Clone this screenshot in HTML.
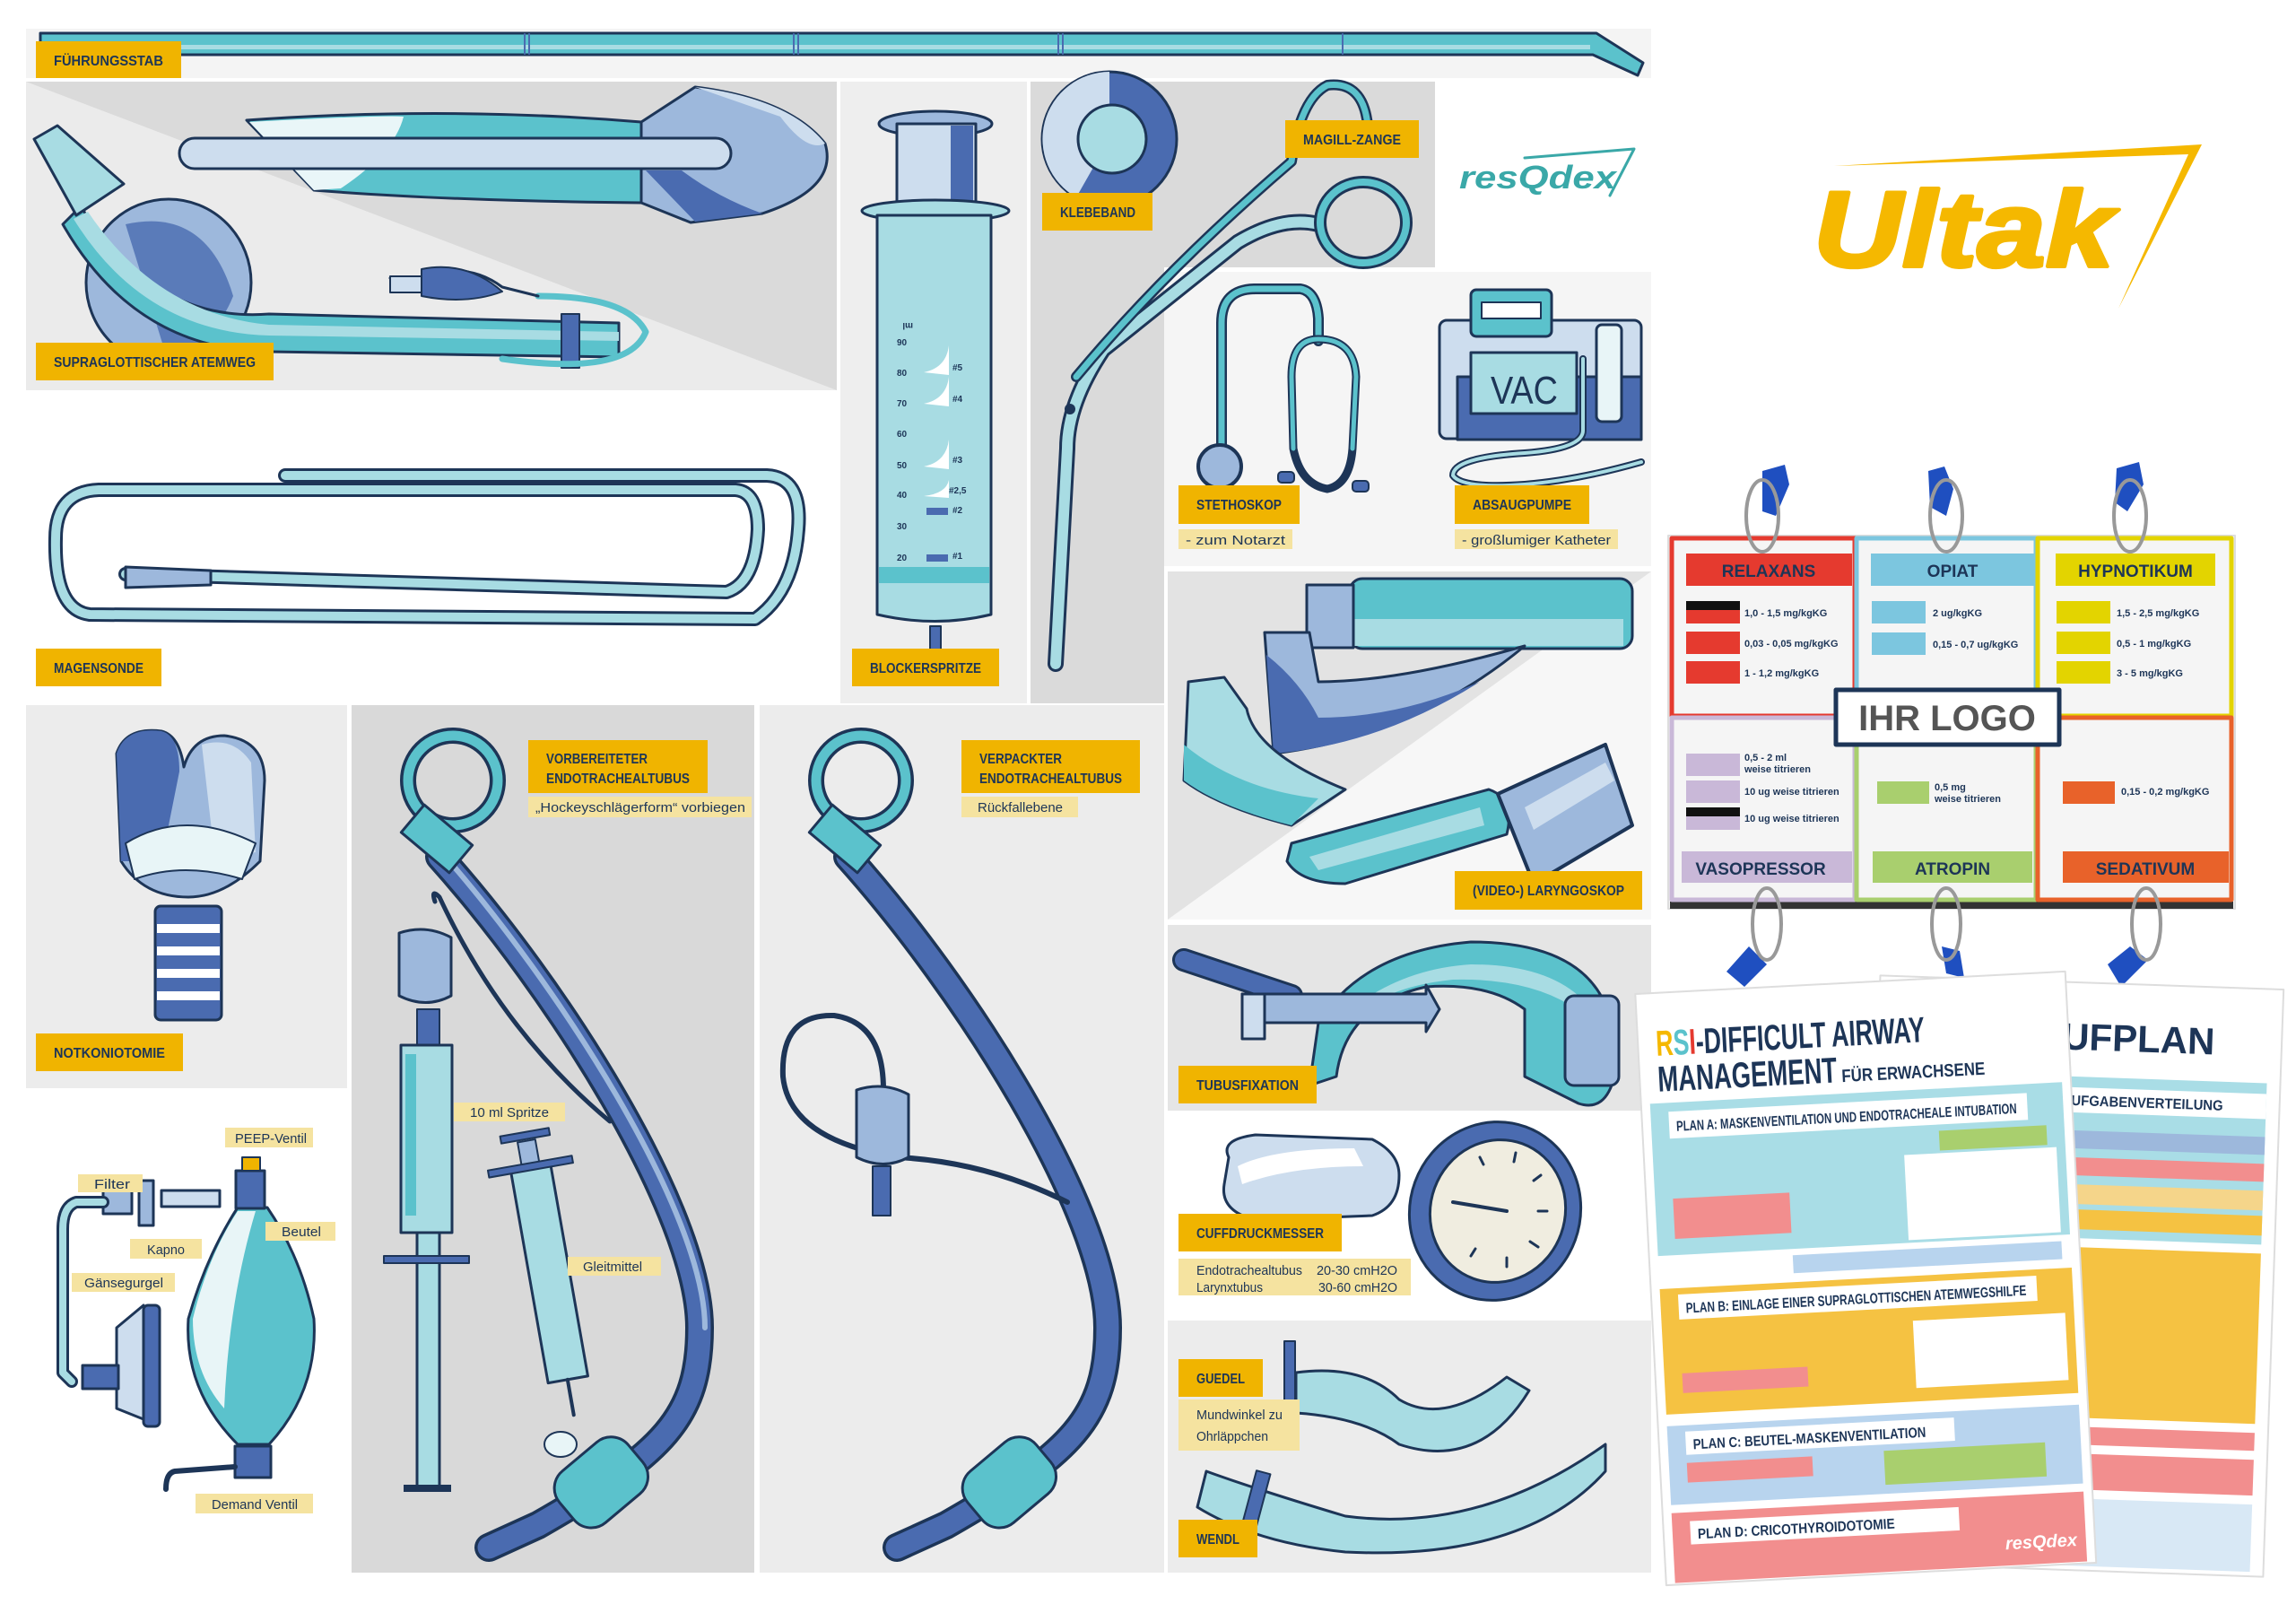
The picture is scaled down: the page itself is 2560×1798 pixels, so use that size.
<!DOCTYPE html>
<html><head><meta charset="utf-8"><style>
html,body{margin:0;padding:0;background:#fff;}
svg{display:block;}
.lb{font-family:"Liberation Sans Narrow","Liberation Sans",sans-serif;font-weight:bold;font-size:16px;fill:#1d3557;}
.sb{font-family:"Liberation Sans Narrow","Liberation Sans",sans-serif;font-size:15px;fill:#1d3557;}
.sm{font-family:"Liberation Sans Narrow","Liberation Sans",sans-serif;font-size:10px;fill:#1d3557;font-weight:bold;}
</style></head><body>
<svg width="2560" height="1798" viewBox="0 0 2560 1798" xmlns="http://www.w3.org/2000/svg">
<g stroke-linejoin="round" stroke-linecap="round">
<rect x="29" y="32" width="1812" height="55" fill="#f4f4f4"/>
<rect x="29" y="91" width="904" height="344" fill="#ebebeb"/>
<polygon points="29,91 933,91 933,435" fill="#dadada"/>
<rect x="937" y="91" width="208" height="693" fill="#eeeeee"/>
<rect x="1149" y="91" width="451" height="207" fill="#dadada"/>
<rect x="1149" y="298" width="149" height="486" fill="#dadada"/>
<rect x="1298" y="303" width="543" height="328" fill="#f5f5f5"/>
<rect x="1302" y="637" width="539" height="388" fill="#f2f2f2"/>
<polygon points="1302,1025 1841,637 1841,1025" fill="#f7f7f7"/>
<polygon points="1302,637 1841,637 1302,1025" fill="#e3e3e3"/>
<rect x="1302" y="1031" width="539" height="207" fill="#e5e5e5"/>
<rect x="1302" y="1472" width="539" height="281" fill="#ececec"/>
<rect x="29" y="786" width="358" height="427" fill="#ececec"/>
<rect x="392" y="786" width="449" height="967" fill="#d9d9d9"/>
<rect x="847" y="786" width="451" height="967" fill="#ececec"/>

<path d="M45,37 L1780,37 L1832,70 L1826,84 L1776,61 L45,61 Z" fill="#5bc2cc" stroke="#1d3557" stroke-width="3"/>
<rect x="48" y="50" width="1725" height="5" fill="#a8dce3"/>
<g stroke="#4a6bb0" stroke-width="2"><line x1="585" y1="38" x2="585" y2="60"/><line x1="590" y1="38" x2="590" y2="60"/><line x1="885" y1="38" x2="885" y2="60"/><line x1="890" y1="38" x2="890" y2="60"/><line x1="1180" y1="38" x2="1180" y2="60"/><line x1="1185" y1="38" x2="1185" y2="60"/><line x1="1497" y1="38" x2="1497" y2="60"/></g>

<path d="M275,134 Q500,118 715,136 L715,226 Q500,224 350,212 Z" fill="#5bc2cc" stroke="#1d3557" stroke-width="3"/>
<path d="M278,136 Q430,128 450,130 Q440,170 380,210 L350,212 Z" fill="#e9f6f8"/>
<path d="M715,136 L775,97 Q880,110 920,160 Q935,210 850,238 L770,248 L715,226 Z" fill="#9db8dc" stroke="#1d3557" stroke-width="3"/>
<path d="M775,97 Q880,110 920,160 Q900,170 870,130 Z" fill="#cdddee"/>
<path d="M720,190 L775,247 L850,238 Q800,220 760,190 Z" fill="#4a6bb0"/>
<rect x="200" y="154" width="615" height="34" rx="17" fill="#cdddee" stroke="#1d3557" stroke-width="3"/>
<ellipse cx="188" cy="315" rx="92" ry="93" fill="#9db8dc" stroke="#1d3557" stroke-width="3"/>
<path d="M140,250 Q230,230 260,330 Q240,380 188,405 Z" fill="#4a6bb0" opacity="0.8"/>
<path d="M90,230 Q170,360 300,350 L690,360 L690,398 L300,392 Q150,390 70,250 Z" fill="#5bc2cc" stroke="#1d3557" stroke-width="3"/>
<path d="M98,236 Q175,350 300,362 L690,370 L690,380 L300,374 Q160,370 82,244 Z" fill="#a8dce3"/>
<path d="M38,155 L64,140 L138,205 L85,240 Z" fill="#a8dce3" stroke="#1d3557" stroke-width="3"/>
<rect x="626" y="350" width="20" height="60" fill="#4a6bb0" stroke="#1d3557" stroke-width="2"/>
<path d="M600,330 Q700,330 720,370 Q700,420 560,400" fill="none" stroke="#5bc2cc" stroke-width="7"/>
<path d="M435,310 L470,310 Q520,290 560,320 L600,330" fill="none" stroke="#1d3557" stroke-width="3"/>
<path d="M470,300 Q520,290 560,325 Q520,340 470,330 Z" fill="#4a6bb0" stroke="#1d3557" stroke-width="2"/>
<rect x="435" y="308" width="35" height="18" fill="#cdddee" stroke="#1d3557" stroke-width="2"/>

<path d="M318,530 L855,530 Q895,532 890,590 Q885,660 842,690 L100,685 Q60,680 62,600 Q62,548 110,546 L820,546 Q845,548 845,590 Q842,650 810,660 L140,640" fill="none" stroke="#1d3557" stroke-width="16"/>
<path d="M318,530 L855,530 Q895,532 890,590 Q885,660 842,690 L100,685 Q60,680 62,600 Q62,548 110,546 L820,546 Q845,548 845,590 Q842,650 810,660 L140,640" fill="none" stroke="#a8dce3" stroke-width="10"/>
<path d="M140,632 L235,636 L235,652 L140,655 Z" fill="#9db8dc" stroke="#1d3557" stroke-width="3"/>

<ellipse cx="1043" cy="138" rx="63" ry="14" fill="#9db8dc" stroke="#1d3557" stroke-width="3"/>
<rect x="1000" y="138" width="88" height="90" fill="#cdddee" stroke="#1d3557" stroke-width="3"/>
<rect x="1060" y="140" width="25" height="86" fill="#4a6bb0"/>
<ellipse cx="1043" cy="235" rx="82" ry="12" fill="#a8dce3" stroke="#1d3557" stroke-width="3"/>
<path d="M978,240 L1105,240 L1105,685 Q1043,700 978,685 Z" fill="#a8dce3" stroke="#1d3557" stroke-width="3"/>
<rect x="980" y="632" width="123" height="18" fill="#5bc2cc"/>
<rect x="1037" y="698" width="12" height="28" fill="#4a6bb0" stroke="#1d3557" stroke-width="2"/>
<g class="sm" font-size="13">
<text x="1002" y="368" transform="rotate(180 1010 364)">ml</text>
<text x="1000" y="385">90</text><text x="1000" y="419">80</text><text x="1000" y="453">70</text><text x="1000" y="487">60</text><text x="1000" y="522">50</text><text x="1000" y="555">40</text><text x="1000" y="590">30</text><text x="1000" y="625">20</text>
<text x="1062" y="413">#5</text><text x="1062" y="448">#4</text><text x="1062" y="516">#3</text><text x="1058" y="550">#2,5</text><text x="1062" y="572">#2</text><text x="1062" y="623">#1</text></g>
<g fill="#fff"><path d="M1030,415 Q1055,410 1058,385 L1058,418 Z"/><path d="M1030,450 Q1055,445 1058,420 L1058,453 Z"/><path d="M1030,520 Q1055,515 1058,490 L1058,523 Z"/><path d="M1030,553 Q1055,550 1058,535 L1058,555 Z"/></g>
<rect x="1033" y="566" width="24" height="8" fill="#4a6bb0"/><rect x="1033" y="618" width="24" height="8" fill="#4a6bb0"/>

<circle cx="1237" cy="155" r="75" fill="#4a6bb0" stroke="#1d3557" stroke-width="3"/>
<path d="M1237,80 A75,75 0 0,0 1200,220 L1237,155 Z" fill="#cdddee"/>
<circle cx="1240" cy="155" r="38" fill="#a8dce3" stroke="#1d3557" stroke-width="3"/>
<path d="M1177,740 L1190,500 Q1190,450 1230,390 L1380,270 Q1430,240 1470,250" fill="none" stroke="#1d3557" stroke-width="18"/>
<path d="M1177,740 L1190,500 Q1190,450 1230,390 L1380,270 Q1430,240 1470,250" fill="none" stroke="#a8dce3" stroke-width="12"/>
<path d="M1200,420 Q1300,300 1440,180 Q1450,110 1480,95 Q1520,90 1525,140" fill="none" stroke="#1d3557" stroke-width="12"/>
<path d="M1200,420 Q1300,300 1440,180 Q1450,110 1480,95 Q1520,90 1525,140" fill="none" stroke="#5bc2cc" stroke-width="7"/>
<ellipse cx="1520" cy="248" rx="48" ry="45" fill="none" stroke="#1d3557" stroke-width="14"/>
<ellipse cx="1520" cy="248" rx="48" ry="45" fill="none" stroke="#5bc2cc" stroke-width="8"/>
<circle cx="1193" cy="456" r="6" fill="#1d3557"/>

<text x="1627" y="210" font-family="Liberation Sans" font-weight="bold" font-style="italic" font-size="36" fill="#3aa8a8" textLength="175" lengthAdjust="spacingAndGlyphs">resQdex</text>
<path d="M1700,176 L1822,166 L1795,218" fill="none" stroke="#3aa8a8" stroke-width="3"/>

<text x="2022" y="297" font-family="Liberation Sans" font-weight="bold" font-style="italic" font-size="120" fill="#f5b800" textLength="335" lengthAdjust="spacingAndGlyphs" stroke="#f5b800" stroke-width="4">Ultak</text>
<polygon points="2045,185 2455,161 2362,344 2440,172" fill="#f5b800"/>

<path d="M1362,520 L1362,360 Q1362,322 1400,322 L1450,322 Q1468,325 1470,355 L1470,380" fill="none" stroke="#1d3557" stroke-width="12"/>
<path d="M1362,520 L1362,360 Q1362,322 1400,322 L1450,322 Q1468,325 1470,355 L1470,380" fill="none" stroke="#5bc2cc" stroke-width="7"/>
<path d="M1442,500 L1440,420 Q1440,378 1470,378 Q1510,378 1512,420 L1508,500 Q1505,540 1480,545 Q1450,540 1442,500 Z" fill="none" stroke="#1d3557" stroke-width="9"/>
<path d="M1442,500 L1440,420 Q1440,378 1470,378 Q1510,378 1512,420 L1508,500" fill="none" stroke="#5bc2cc" stroke-width="5"/>
<circle cx="1360" cy="520" r="24" fill="#9db8dc" stroke="#1d3557" stroke-width="4"/>
<rect x="1425" y="526" width="18" height="12" rx="4" fill="#4a6bb0" stroke="#1d3557" stroke-width="2"/>
<rect x="1508" y="536" width="18" height="12" rx="4" fill="#4a6bb0" stroke="#1d3557" stroke-width="2"/>
<rect x="1605" y="357" width="225" height="132" rx="8" fill="#cdddee" stroke="#1d3557" stroke-width="3"/>
<rect x="1625" y="420" width="205" height="70" fill="#4a6bb0" stroke="#1d3557" stroke-width="3"/>
<rect x="1640" y="323" width="90" height="52" rx="6" fill="#5bc2cc" stroke="#1d3557" stroke-width="3"/>
<rect x="1652" y="337" width="66" height="18" fill="#fff" stroke="#1d3557" stroke-width="2"/>
<rect x="1640" y="393" width="118" height="68" fill="#a8dce3" stroke="#1d3557" stroke-width="3"/>
<text x="1662" y="450" font-family="Liberation Sans Narrow,Liberation Sans,sans-serif" font-size="44" fill="#1d3557" textLength="75" lengthAdjust="spacingAndGlyphs">VAC</text>
<rect x="1780" y="362" width="28" height="108" rx="6" fill="#e8f5f7" stroke="#1d3557" stroke-width="3"/>
<path d="M1765,400 L1765,480 Q1765,500 1700,505 Q1620,510 1620,530 Q1630,545 1700,540 Q1760,535 1830,515" fill="none" stroke="#1d3557" stroke-width="8"/>
<path d="M1765,400 L1765,480 Q1765,500 1700,505 Q1620,510 1620,530 Q1630,545 1700,540 Q1760,535 1830,515" fill="none" stroke="#a8dce3" stroke-width="4"/>

<rect x="1505" y="645" width="315" height="78" rx="14" fill="#5bc2cc" stroke="#1d3557" stroke-width="3"/>
<path d="M1510,690 L1810,690 L1810,720 L1510,720 Z" fill="#a8dce3"/>
<rect x="1457" y="652" width="52" height="70" fill="#9db8dc" stroke="#1d3557" stroke-width="3"/>
<path d="M1410,705 L1460,705 L1470,760 Q1560,760 1700,720 Q1580,820 1420,840 Z" fill="#9db8dc" stroke="#1d3557" stroke-width="3"/>
<path d="M1412,730 Q1450,760 1470,800 Q1560,800 1650,760 Q1540,830 1420,840 Z" fill="#4a6bb0"/>
<path d="M1325,760 L1365,755 L1390,790 Q1400,840 1500,880 L1440,920 Q1360,900 1320,870 Z" fill="#a8dce3" stroke="#1d3557" stroke-width="3"/>
<path d="M1320,830 Q1380,880 1470,890 L1440,920 Q1360,900 1320,870 Z" fill="#5bc2cc"/>
<path d="M1440,940 L1660,880 Q1690,890 1680,930 L1500,985 Q1450,985 1435,960 Z" fill="#5bc2cc" stroke="#1d3557" stroke-width="3"/>
<path d="M1460,955 L1650,900 L1655,920 L1470,970 Z" fill="#a8dce3"/>
<path d="M1670,885 L1790,830 L1820,920 L1710,985 Z" fill="#9db8dc" stroke="#1d3557" stroke-width="4"/>
<path d="M1700,900 L1790,850 L1800,870 L1710,925 Z" fill="#cdddee"/>

<path d="M1320,1070 L1440,1110" stroke="#1d3557" stroke-width="26"/>
<path d="M1320,1070 L1440,1110" stroke="#4a6bb0" stroke-width="20"/>
<path d="M1470,1140 Q1520,1060 1640,1050 Q1760,1050 1790,1120 L1800,1200 Q1790,1240 1760,1230 L1700,1200 L1700,1125 Q1660,1095 1590,1100 Q1500,1120 1490,1200 L1460,1210 Z" fill="#5bc2cc" stroke="#1d3557" stroke-width="3"/>
<path d="M1500,1130 Q1560,1080 1640,1075 Q1720,1075 1760,1110 L1750,1120 Q1700,1090 1620,1092 Q1540,1100 1505,1140 Z" fill="#a8dce3"/>
<rect x="1745" y="1110" width="60" height="100" rx="10" fill="#9db8dc" stroke="#1d3557" stroke-width="3"/>
<path d="M1385,1108 L1590,1108 L1590,1098 L1605,1125 L1590,1150 L1590,1140 L1385,1140 Z" fill="#9db8dc" stroke="#1d3557" stroke-width="3"/>
<rect x="1385" y="1108" width="25" height="50" fill="#cdddee" stroke="#1d3557" stroke-width="3"/>

<path d="M1370,1290 Q1360,1270 1400,1265 L1530,1270 Q1560,1285 1560,1310 Q1560,1345 1530,1355 L1400,1360 Q1360,1350 1365,1320 Z" fill="#cdddee" stroke="#1d3557" stroke-width="3"/>
<path d="M1380,1300 Q1420,1280 1510,1280 L1520,1300 Q1440,1300 1385,1320 Z" fill="#fff"/>
<ellipse cx="1667" cy="1350" rx="95" ry="100" fill="#4a6bb0" stroke="#1d3557" stroke-width="3" transform="rotate(20 1667 1350)"/>
<ellipse cx="1670" cy="1350" rx="75" ry="80" fill="#f0ede0" stroke="#1d3557" stroke-width="3" transform="rotate(20 1670 1350)"/>
<line x1="1620" y1="1340" x2="1680" y2="1350" stroke="#1d3557" stroke-width="4"/>
<g stroke="#1d3557" stroke-width="3"><line x1="1650" y1="1290" x2="1654" y2="1298"/><line x1="1690" y1="1285" x2="1688" y2="1295"/><line x1="1718" y1="1310" x2="1710" y2="1316"/><line x1="1725" y1="1350" x2="1715" y2="1350"/><line x1="1715" y1="1390" x2="1706" y2="1384"/><line x1="1680" y1="1412" x2="1680" y2="1402"/><line x1="1640" y1="1400" x2="1645" y2="1392"/></g>

<path d="M1445,1530 Q1520,1520 1560,1560 Q1610,1590 1680,1535 L1705,1550 Q1650,1640 1560,1610 Q1520,1580 1445,1575 Z" fill="#a8dce3" stroke="#1d3557" stroke-width="3"/>
<rect x="1432" y="1495" width="12" height="100" fill="#4a6bb0" stroke="#1d3557" stroke-width="2"/>
<path d="M1345,1640 Q1400,1660 1500,1690 Q1650,1710 1790,1610 L1790,1640 Q1700,1740 1500,1730 Q1400,1720 1335,1680 Z" fill="#a8dce3" stroke="#1d3557" stroke-width="3"/>
<rect x="1393" y="1640" width="16" height="60" fill="#4a6bb0" stroke="#1d3557" stroke-width="2" transform="rotate(15 1400 1670)"/>

<path d="M130,840 Q140,810 180,815 Q200,820 205,855 Q215,820 250,820 Q295,825 295,870 L290,960 Q250,1000 210,1000 Q160,1000 135,960 Z" fill="#9db8dc" stroke="#1d3557" stroke-width="3"/>
<path d="M130,840 Q140,810 180,815 Q200,820 200,860 L180,960 L135,960 Z" fill="#4a6bb0"/>
<path d="M225,830 Q260,820 280,850 L285,950 L240,960 Z" fill="#cdddee"/>
<path d="M140,940 Q205,900 285,940 L270,980 Q205,960 150,980 Z" fill="#e8f5f7" stroke="#1d3557" stroke-width="2"/>
<rect x="173" y="1010" width="74" height="127" rx="6" fill="#4a6bb0" stroke="#1d3557" stroke-width="3"/>
<g fill="#fff"><rect x="175" y="1030" width="70" height="10"/><rect x="175" y="1055" width="70" height="10"/><rect x="175" y="1080" width="70" height="10"/><rect x="175" y="1105" width="70" height="10"/></g>

<circle cx="505" cy="870" r="50" fill="none" stroke="#1d3557" stroke-width="18"/>
<circle cx="505" cy="870" r="50" fill="none" stroke="#5bc2cc" stroke-width="11"/>
<path d="M490,955 C620,1100 780,1350 780,1480 C780,1580 740,1620 600,1700 L545,1725" fill="none" stroke="#1d3557" stroke-width="32"/>
<path d="M490,955 C620,1100 780,1350 780,1480 C780,1580 740,1620 600,1700 L545,1725" fill="none" stroke="#4a6bb0" stroke-width="25"/>
<path d="M494,952 C620,1095 786,1350 786,1480" fill="none" stroke="#9db8dc" stroke-width="6"/>
<rect x="452" y="915" width="70" height="40" fill="#5bc2cc" stroke="#1d3557" stroke-width="3" transform="rotate(40 487 935)"/>
<path d="M485,1005 Q480,990 490,1000 Q560,1150 680,1250" fill="none" stroke="#1d3557" stroke-width="5"/>
<rect x="620" y="1615" width="100" height="75" rx="25" fill="#5bc2cc" stroke="#1d3557" stroke-width="3" transform="rotate(-40 670 1652)"/>
<path d="M445,1040 Q475,1030 503,1045 L503,1110 Q475,1125 445,1110 Z" fill="#9db8dc" stroke="#1d3557" stroke-width="3"/>
<rect x="465" y="1125" width="25" height="40" fill="#4a6bb0" stroke="#1d3557" stroke-width="2"/>
<rect x="447" y="1165" width="57" height="209" fill="#a8dce3" stroke="#1d3557" stroke-width="3"/>
<rect x="452" y="1175" width="12" height="180" fill="#5bc2cc"/>
<rect x="465" y="1374" width="25" height="286" fill="#a8dce3" stroke="#1d3557" stroke-width="3"/>
<rect x="428" y="1400" width="95" height="8" fill="#4a6bb0" stroke="#1d3557" stroke-width="2"/>
<rect x="450" y="1655" width="53" height="8" fill="#1d3557"/>
<g transform="rotate(-10 610 1420)"><rect x="590" y="1300" width="45" height="240" fill="#a8dce3" stroke="#1d3557" stroke-width="3"/><rect x="603" y="1270" width="20" height="30" fill="#9db8dc" stroke="#1d3557" stroke-width="2"/><rect x="565" y="1295" width="95" height="8" fill="#4a6bb0" stroke="#1d3557" stroke-width="2"/><rect x="585" y="1260" width="55" height="8" fill="#4a6bb0" stroke="#1d3557" stroke-width="2"/><line x1="612" y1="1540" x2="612" y2="1580" stroke="#1d3557" stroke-width="4"/></g>
<ellipse cx="625" cy="1610" rx="18" ry="14" fill="#e8f5f7" stroke="#1d3557" stroke-width="2"/>

<circle cx="960" cy="870" r="50" fill="none" stroke="#1d3557" stroke-width="18"/>
<circle cx="960" cy="870" r="50" fill="none" stroke="#5bc2cc" stroke-width="11"/>
<path d="M945,955 C1075,1100 1235,1350 1235,1480 C1235,1580 1195,1620 1055,1700 L1000,1725" fill="none" stroke="#1d3557" stroke-width="32"/>
<path d="M945,955 C1075,1100 1235,1350 1235,1480 C1235,1580 1195,1620 1055,1700 L1000,1725" fill="none" stroke="#4a6bb0" stroke-width="25"/>
<rect x="907" y="915" width="70" height="40" fill="#5bc2cc" stroke="#1d3557" stroke-width="3" transform="rotate(40 942 935)"/>
<rect x="1075" y="1615" width="100" height="75" rx="25" fill="#5bc2cc" stroke="#1d3557" stroke-width="3" transform="rotate(-40 1125 1652)"/>
<path d="M1190,1340 Q1100,1295 1000,1290 Q880,1270 873,1200 Q870,1130 930,1132 Q985,1140 985,1215" fill="none" stroke="#1d3557" stroke-width="6"/>
<path d="M955,1215 Q985,1205 1013,1220 L1013,1290 Q985,1305 955,1290 Z" fill="#9db8dc" stroke="#1d3557" stroke-width="3"/>
<rect x="973" y="1300" width="20" height="55" fill="#4a6bb0" stroke="#1d3557" stroke-width="2"/>

<path d="M265,1346 Q230,1400 210,1470 Q205,1550 265,1610 L300,1610 Q355,1550 350,1470 Q335,1400 298,1346 Z" fill="#5bc2cc" stroke="#1d3557" stroke-width="3"/>
<path d="M265,1350 Q232,1400 215,1470 Q215,1530 250,1570 Q255,1450 285,1350 Z" fill="#e8f5f7"/>
<rect x="263" y="1305" width="32" height="42" fill="#4a6bb0" stroke="#1d3557" stroke-width="3"/>
<rect x="270" y="1290" width="20" height="15" fill="#f0b400" stroke="#1d3557" stroke-width="2"/>
<rect x="262" y="1612" width="40" height="35" fill="#4a6bb0" stroke="#1d3557" stroke-width="3"/>
<path d="M262,1635 L195,1640 Q185,1642 185,1660" fill="none" stroke="#1d3557" stroke-width="6"/>
<rect x="180" y="1327" width="65" height="18" fill="#cdddee" stroke="#1d3557" stroke-width="3"/>
<rect x="155" y="1316" width="16" height="50" fill="#9db8dc" stroke="#1d3557" stroke-width="3"/>
<rect x="115" y="1325" width="32" height="28" fill="#9db8dc" stroke="#1d3557" stroke-width="3"/>
<path d="M115,1340 L85,1340 Q70,1345 70,1370 L70,1530 L80,1540" fill="none" stroke="#1d3557" stroke-width="14"/>
<path d="M115,1340 L85,1340 Q70,1345 70,1370 L70,1530 L80,1540" fill="none" stroke="#a8dce3" stroke-width="8"/>
<path d="M130,1480 L160,1455 L175,1588 L130,1570 Z" fill="#cdddee" stroke="#1d3557" stroke-width="3"/>
<rect x="160" y="1455" width="18" height="135" rx="5" fill="#4a6bb0" stroke="#1d3557" stroke-width="3"/>
<rect x="92" y="1522" width="40" height="26" fill="#4a6bb0" stroke="#1d3557" stroke-width="3"/>

<g fill="#f0b400">
<rect x="40" y="46" width="162" height="41"/>
<rect x="40" y="382" width="265" height="42"/>
<rect x="40" y="723" width="140" height="42"/>
<rect x="950" y="723" width="164" height="42"/>
<rect x="1162" y="215" width="123" height="42"/>
<rect x="1433" y="134" width="149" height="42"/>
<rect x="1314" y="541" width="135" height="43"/>
<rect x="1622" y="541" width="150" height="43"/>
<rect x="1622" y="971" width="209" height="43"/>
<rect x="1314" y="1188" width="154" height="42"/>
<rect x="1314" y="1353" width="182" height="42"/>
<rect x="1314" y="1515" width="94" height="42"/>
<rect x="1314" y="1694" width="88" height="42"/>
<rect x="40" y="1152" width="164" height="42"/>
<rect x="589" y="825" width="200" height="59"/>
<rect x="1072" y="825" width="199" height="59"/>
</g>
<g fill="#f5e3a0">
<rect x="1314" y="590" width="127" height="22"/>
<rect x="1622" y="590" width="182" height="22"/>
<rect x="1314" y="1403" width="259" height="41"/>
<rect x="1314" y="1560" width="135" height="57"/>
<rect x="589" y="888" width="249" height="23"/>
<rect x="1072" y="888" width="130" height="23"/>
<rect x="251" y="1257" width="98" height="22"/>
<rect x="87" y="1309" width="72" height="20"/>
<rect x="296" y="1362" width="78" height="21"/>
<rect x="145" y="1381" width="80" height="22"/>
<rect x="80" y="1419" width="115" height="21"/>
<rect x="218" y="1665" width="131" height="22"/>
<rect x="506" y="1229" width="124" height="21"/>
<rect x="633" y="1401" width="104" height="21"/>
</g>
<g class="lb" lengthAdjust="spacingAndGlyphs">
<text x="60" y="73" textLength="122" lengthAdjust="spacingAndGlyphs">FÜHRUNGSSTAB</text>
<text x="60" y="409" textLength="225" lengthAdjust="spacingAndGlyphs">SUPRAGLOTTISCHER  ATEMWEG</text>
<text x="60" y="750" textLength="100" lengthAdjust="spacingAndGlyphs">MAGENSONDE</text>
<text x="970" y="750" textLength="124" lengthAdjust="spacingAndGlyphs">BLOCKERSPRITZE</text>
<text x="1182" y="242" textLength="84" lengthAdjust="spacingAndGlyphs">KLEBEBAND</text>
<text x="1453" y="161" textLength="109" lengthAdjust="spacingAndGlyphs">MAGILL-ZANGE</text>
<text x="1334" y="568" textLength="95" lengthAdjust="spacingAndGlyphs">STETHOSKOP</text>
<text x="1642" y="568" textLength="110" lengthAdjust="spacingAndGlyphs">ABSAUGPUMPE</text>
<text x="1642" y="998" textLength="169" lengthAdjust="spacingAndGlyphs">(VIDEO-) LARYNGOSKOP</text>
<text x="1334" y="1215" textLength="114" lengthAdjust="spacingAndGlyphs">TUBUSFIXATION</text>
<text x="1334" y="1380" textLength="142" lengthAdjust="spacingAndGlyphs">CUFFDRUCKMESSER</text>
<text x="1334" y="1542" textLength="54" lengthAdjust="spacingAndGlyphs">GUEDEL</text>
<text x="1334" y="1721" textLength="48" lengthAdjust="spacingAndGlyphs">WENDL</text>
<text x="60" y="1179" textLength="124" lengthAdjust="spacingAndGlyphs">NOTKONIOTOMIE</text>
<text x="609" y="851" textLength="113" lengthAdjust="spacingAndGlyphs">VORBEREITETER</text><text x="609" y="873" textLength="160" lengthAdjust="spacingAndGlyphs">ENDOTRACHEALTUBUS</text>
<text x="1092" y="851" textLength="92" lengthAdjust="spacingAndGlyphs">VERPACKTER</text><text x="1092" y="873" textLength="159" lengthAdjust="spacingAndGlyphs">ENDOTRACHEALTUBUS</text>
</g>
<g class="sb">
<text x="1322" y="607" textLength="111" lengthAdjust="spacingAndGlyphs">- zum Notarzt</text>
<text x="1630" y="607" textLength="166" lengthAdjust="spacingAndGlyphs">- großlumiger Katheter</text>
<text x="1334" y="1421" textLength="118" lengthAdjust="spacingAndGlyphs">Endotrachealtubus</text><text x="1468" y="1421" textLength="90" lengthAdjust="spacingAndGlyphs">20-30 cmH2O</text>
<text x="1334" y="1440" textLength="74" lengthAdjust="spacingAndGlyphs">Larynxtubus</text><text x="1470" y="1440" textLength="88" lengthAdjust="spacingAndGlyphs">30-60 cmH2O</text>
<text x="1334" y="1582" textLength="96" lengthAdjust="spacingAndGlyphs">Mundwinkel zu</text><text x="1334" y="1606" textLength="80" lengthAdjust="spacingAndGlyphs">Ohrläppchen</text>
<text x="597" y="905" textLength="234" lengthAdjust="spacingAndGlyphs">„Hockeyschlägerform“ vorbiegen</text>
<text x="1090" y="905" textLength="95" lengthAdjust="spacingAndGlyphs">Rückfallebene</text>
<text x="262" y="1274" textLength="80" lengthAdjust="spacingAndGlyphs">PEEP-Ventil</text>
<text x="105" y="1325" textLength="40" lengthAdjust="spacingAndGlyphs">Filter</text>
<text x="314" y="1378" textLength="44" lengthAdjust="spacingAndGlyphs">Beutel</text>
<text x="164" y="1398" textLength="42" lengthAdjust="spacingAndGlyphs">Kapno</text>
<text x="94" y="1435" textLength="88" lengthAdjust="spacingAndGlyphs">Gänsegurgel</text>
<text x="236" y="1682" textLength="96" lengthAdjust="spacingAndGlyphs">Demand Ventil</text>
<text x="524" y="1245" textLength="88" lengthAdjust="spacingAndGlyphs">10 ml Spritze</text>
<text x="650" y="1417" textLength="66" lengthAdjust="spacingAndGlyphs">Gleitmittel</text>
</g>

<rect x="1860" y="597" width="632" height="416" fill="#f5f5f5" stroke="#ddd" stroke-width="2"/>
<rect x="1862" y="1005" width="628" height="8" fill="#333"/>
<rect x="1864" y="600" width="204" height="198" fill="none" stroke="#e53a2f" stroke-width="5"/>
<rect x="2070" y="600" width="200" height="198" fill="none" stroke="#7cc6df" stroke-width="5"/>
<rect x="2272" y="600" width="216" height="198" fill="none" stroke="#e3d400" stroke-width="5"/>
<rect x="1864" y="800" width="204" height="203" fill="none" stroke="#c9b8d8" stroke-width="5"/>
<rect x="2070" y="800" width="200" height="203" fill="none" stroke="#a9cf6e" stroke-width="5"/>
<rect x="2272" y="800" width="216" height="203" fill="none" stroke="#e8622a" stroke-width="5"/>
<rect x="1880" y="617" width="185" height="36" fill="#e53a2f"/>
<rect x="2086" y="617" width="182" height="36" fill="#7cc6df"/>
<rect x="2292" y="617" width="178" height="36" fill="#e3d400"/>
<rect x="1875" y="949" width="190" height="35" fill="#c9b8d8"/>
<rect x="2088" y="949" width="178" height="35" fill="#a9cf6e"/>
<rect x="2300" y="949" width="185" height="35" fill="#e8622a"/>
<g font-family="Liberation Sans Narrow,Liberation Sans,sans-serif" font-weight="bold" font-size="19" fill="#1d3557" text-anchor="middle">
<text x="1972" y="643">RELAXANS</text><text x="2177" y="643">OPIAT</text><text x="2381" y="643">HYPNOTIKUM</text>
<text x="1963" y="975">VASOPRESSOR</text><text x="2177" y="975">ATROPIN</text><text x="2392" y="975">SEDATIVUM</text></g>
<g font-family="Liberation Sans Narrow,Liberation Sans,sans-serif" font-weight="bold" font-size="11" fill="#1d3557">
<rect x="1880" y="670" width="60" height="25" fill="#e53a2f"/><rect x="1880" y="670" width="60" height="10" fill="#111"/><text x="1945" y="687">1,0 - 1,5 mg/kgKG</text>
<rect x="1880" y="704" width="60" height="25" fill="#e53a2f"/><text x="1945" y="721">0,03 - 0,05 mg/kgKG</text>
<rect x="1880" y="737" width="60" height="25" fill="#e53a2f"/><text x="1945" y="754">1 - 1,2 mg/kgKG</text>
<rect x="2087" y="670" width="60" height="25" fill="#7cc6df"/><text x="2155" y="687">2 ug/kgKG</text>
<rect x="2087" y="705" width="60" height="25" fill="#7cc6df"/><text x="2155" y="722">0,15 - 0,7 ug/kgKG</text>
<rect x="2293" y="670" width="60" height="25" fill="#e3d400"/><text x="2360" y="687">1,5 - 2,5 mg/kgKG</text>
<rect x="2293" y="704" width="60" height="25" fill="#e3d400"/><text x="2360" y="721">0,5 - 1 mg/kgKG</text>
<rect x="2293" y="737" width="60" height="25" fill="#e3d400"/><text x="2360" y="754">3 - 5 mg/kgKG</text>
<rect x="1880" y="840" width="60" height="25" fill="#c9b8d8"/><text x="1945" y="848">0,5 - 2 ml</text><text x="1945" y="861">weise titrieren</text>
<rect x="1880" y="870" width="60" height="25" fill="#c9b8d8"/><text x="1945" y="886">10 ug weise titrieren</text>
<rect x="1880" y="900" width="60" height="25" fill="#c9b8d8"/><rect x="1880" y="900" width="60" height="10" fill="#111"/><text x="1945" y="916">10 ug weise titrieren</text>
<rect x="2093" y="871" width="58" height="25" fill="#a9cf6e"/><text x="2157" y="881">0,5 mg</text><text x="2157" y="894">weise titrieren</text>
<rect x="2300" y="871" width="58" height="25" fill="#e8622a"/><text x="2365" y="886">0,15 - 0,2 mg/kgKG</text></g>
<rect x="2047" y="769" width="249" height="61" fill="#fff" stroke="#1d3557" stroke-width="5"/>
<text x="2171" y="814" text-anchor="middle" font-family="Liberation Sans Narrow,Liberation Sans,sans-serif" font-weight="bold" font-size="40" fill="#555">IHR LOGO</text>
<g fill="#1f4fc0">
<path d="M1965,525 L1990,518 L1995,540 L1980,575 L1965,570 Z"/><path d="M2150,525 L2168,520 L2178,545 L2170,575 L2152,565 Z"/><path d="M2360,522 L2385,515 L2390,540 L2372,570 L2358,560 Z"/>
<path d="M1925,1083 L1950,1055 L1970,1075 L1945,1100 Z"/><path d="M2165,1055 L2185,1060 L2190,1090 L2170,1085 Z"/><path d="M2350,1075 L2375,1055 L2395,1070 L2365,1100 Z"/></g>
<g fill="none" stroke="#999" stroke-width="4">
<ellipse cx="1965" cy="575" rx="18" ry="40"/><ellipse cx="2170" cy="575" rx="18" ry="40"/><ellipse cx="2375" cy="575" rx="18" ry="40"/>
<ellipse cx="1970" cy="1030" rx="16" ry="40"/><ellipse cx="2170" cy="1030" rx="16" ry="40"/><ellipse cx="2393" cy="1030" rx="16" ry="40"/></g>

<g transform="rotate(2 2310 1420)">
<rect x="2085" y="1095" width="450" height="655" fill="#fff" stroke="#ddd" stroke-width="2"/>
<text x="2290" y="1170" font-family="Liberation Sans Narrow,Liberation Sans,sans-serif" font-weight="bold" font-size="42" fill="#1d3557">UFPLAN</text>
<rect x="2285" y="1200" width="235" height="180" fill="#a9dde6"/>
<rect x="2285" y="1212" width="235" height="28" fill="#fff"/>
<rect x="2285" y="1260" width="235" height="20" fill="#9db8dc"/>
<rect x="2285" y="1290" width="235" height="20" fill="#f28e8e"/>
<rect x="2285" y="1320" width="235" height="22" fill="#f5d58a"/>
<rect x="2285" y="1348" width="235" height="22" fill="#f5c242"/>
<rect x="2285" y="1390" width="235" height="190" fill="#f5c242"/>
<rect x="2285" y="1590" width="235" height="20" fill="#f28e8e"/>
<rect x="2285" y="1620" width="235" height="40" fill="#f28e8e"/>
<rect x="2285" y="1670" width="235" height="75" fill="#d8e8f5"/>
<text x="2292" y="1232" class="lb" font-size="15" textLength="180" lengthAdjust="spacingAndGlyphs">AUFGABENVERTEILUNG</text>
</g>
<g transform="rotate(-3 2080 1420)">
<rect x="1840" y="1095" width="480" height="660" fill="#fff" stroke="#ddd" stroke-width="2"/>
<text x="1860" y="1165" font-family="Liberation Sans Narrow,Liberation Sans,sans-serif" font-weight="bold" font-size="40" fill="#1d3557" textLength="300" lengthAdjust="spacingAndGlyphs"><tspan fill="#f5b800">R</tspan><tspan fill="#5bc2cc">S</tspan><tspan fill="#e53a2f">I</tspan>-DIFFICULT AIRWAY</text>
<text x="1860" y="1205" font-family="Liberation Sans Narrow,Liberation Sans,sans-serif" font-weight="bold" font-size="40" fill="#1d3557" textLength="200" lengthAdjust="spacingAndGlyphs">MANAGEMENT</text>
<text x="2065" y="1205" font-family="Liberation Sans Narrow,Liberation Sans,sans-serif" font-weight="bold" font-size="20" fill="#1d3557" textLength="160" lengthAdjust="spacingAndGlyphs">FÜR ERWACHSENE</text>
<rect x="1850" y="1218" width="460" height="170" fill="#a9dde6"/>
<rect x="1870" y="1228" width="400" height="30" fill="#fff"/>
<text x="1878" y="1250" class="lb" font-size="15" textLength="380" lengthAdjust="spacingAndGlyphs">PLAN A: MASKENVENTILATION UND ENDOTRACHEALE INTUBATION</text>
<rect x="2170" y="1265" width="120" height="22" fill="#a9cf6e"/>
<rect x="2130" y="1290" width="170" height="95" fill="#fff"/>
<rect x="1870" y="1325" width="130" height="45" fill="#f28e8e"/>
<rect x="2000" y="1395" width="300" height="20" fill="#b8d4ee"/>
<rect x="1850" y="1425" width="460" height="140" fill="#f5c242"/>
<rect x="1870" y="1432" width="400" height="28" fill="#fff"/>
<text x="1878" y="1453" class="lb" font-size="15" textLength="380" lengthAdjust="spacingAndGlyphs">PLAN B: EINLAGE EINER SUPRAGLOTTISCHEN ATEMWEGSHILFE</text>
<rect x="2130" y="1475" width="170" height="75" fill="#fff"/>
<rect x="1870" y="1520" width="140" height="22" fill="#f28e8e"/>
<rect x="1850" y="1578" width="460" height="88" fill="#b8d4ee"/>
<rect x="1870" y="1585" width="300" height="26" fill="#fff"/>
<text x="1878" y="1605" class="lb" font-size="15" textLength="260" lengthAdjust="spacingAndGlyphs">PLAN C: BEUTEL-MASKENVENTILATION</text>
<rect x="1870" y="1620" width="140" height="22" fill="#f28e8e"/>
<rect x="2090" y="1618" width="180" height="38" fill="#a9cf6e"/>
<rect x="1850" y="1675" width="460" height="78" fill="#f28e8e"/>
<rect x="1870" y="1685" width="300" height="26" fill="#fff"/>
<text x="1878" y="1705" class="lb" font-size="15" textLength="220" lengthAdjust="spacingAndGlyphs">PLAN D: CRICOTHYROIDOTOMIE</text>
<text x="2220" y="1735" font-family="Liberation Sans" font-weight="bold" font-style="italic" font-size="20" fill="#fff" textLength="80" lengthAdjust="spacingAndGlyphs">resQdex</text>
</g>
</g>
</svg>
</body></html>
